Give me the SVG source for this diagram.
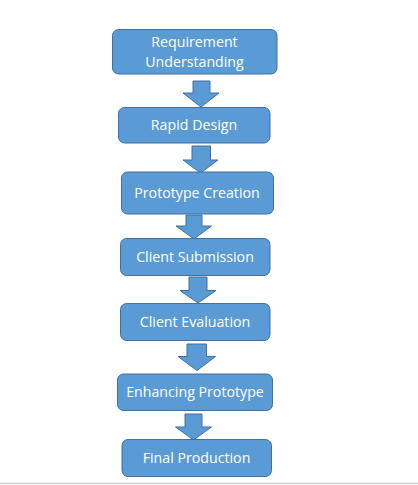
<svg xmlns="http://www.w3.org/2000/svg" width="418" height="485" viewBox="0 0 418 485">
<style>
.box{fill:#5b9bd5;stroke:#41719c;stroke-width:1}
.arr{fill:#5b9bd5;stroke:#41719c;stroke-width:1}
.lbl{fill:#ffffff;font-family:"Open Sans","Liberation Sans",sans-serif;font-size:14.2px;text-anchor:middle}
</style>
<rect x="0" y="0" width="418" height="485" fill="#ffffff"/>
<line x1="0" y1="483.5" x2="418" y2="483.5" stroke="#d0d0d0" stroke-width="1.5"/>
<g id="connectors">
<polygon class="arr" points="193,81 210,81 210,93 219,93 201,107 183,93 193,93"/>
<polygon class="arr" points="192,146 210.5,146 210.5,160 218,160 200.5,173 183,160 192,160"/>
<polygon class="arr" points="186,215 202,215 202,226 211.5,226 194,239 176,226 186,226"/>
<polygon class="arr" points="189,277 207,277 207,290.5 216,290.5 198,303 180,290.5 189,290.5"/>
<polygon class="arr" points="187,344 206.5,344 206.5,356.5 215.5,356.5 197,370.5 178,356.5 187,356.5"/>
<polygon class="arr" points="185,414 202,414 202,427 211.5,427 193.5,440 175.5,427 185,427"/>
</g>
<g id="n1">
<rect class="box" x="112.5" y="29.5" width="164.5" height="44.5" rx="6"/>
<text class="lbl" x="194.5" y="47">Requirement</text>
<text class="lbl" x="194.5" y="67">Understanding</text>
</g>
<g id="n2">
<rect class="box" x="118.5" y="107.5" width="151.5" height="35.5" rx="6"/>
<text class="lbl" x="194" y="130">Rapid Design</text>
</g>
<g id="n3">
<rect class="box" x="121.5" y="172" width="152" height="42" rx="6"/>
<text class="lbl" x="197" y="198">Prototype Creation</text>
</g>
<g id="n4">
<rect class="box" x="120.5" y="238.5" width="149.5" height="37" rx="6"/>
<text class="lbl" x="195" y="261.5">Client Submission</text>
</g>
<g id="n5">
<rect class="box" x="120.5" y="303.5" width="149.5" height="37" rx="6"/>
<text class="lbl" x="195" y="326.5">Client Evaluation</text>
</g>
<g id="n6">
<rect class="box" x="117.5" y="374" width="155" height="36.5" rx="6"/>
<text class="lbl" x="195" y="397">Enhancing Prototype</text>
</g>
<g id="n7">
<rect class="box" x="122" y="439.5" width="149.5" height="37" rx="6"/>
<text class="lbl" x="196.5" y="462.5">Final Production</text>
</g>
</svg>
